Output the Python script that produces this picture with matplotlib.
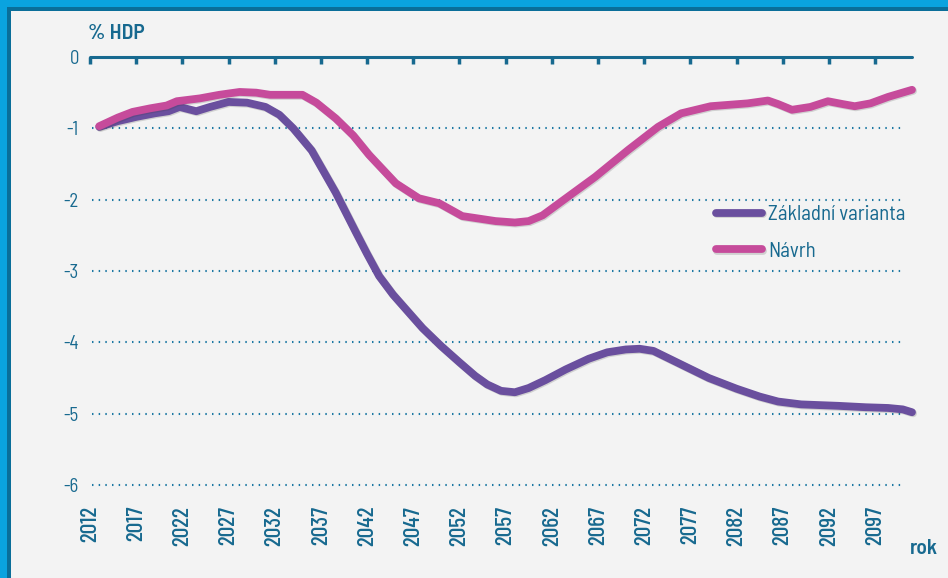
import matplotlib
matplotlib.use('Agg')
import matplotlib.pyplot as plt
import matplotlib.patheffects as pe
from matplotlib.patches import Rectangle

# data (% HDP)
base_years = [2013, 2015, 2017, 2019, 2020.5, 2021.7, 2023.5, 2025, 2027, 2029, 2031, 2032.5,
              2034, 2036, 2038.6, 2040.8, 2042, 2043.3, 2044.8, 2046.5, 2048, 2050, 2052,
              2053.7, 2055, 2056.5, 2058, 2059.5, 2061.3, 2063.5, 2066, 2068, 2070, 2071.5,
              2073, 2076, 2079, 2082, 2084.5, 2086.5, 2089, 2093, 2096, 2098.4, 2100, 2101]
base_values = [-0.98, -0.90, -0.84, -0.79, -0.76, -0.70, -0.76, -0.70, -0.63, -0.64, -0.70, -0.81,
               -1.00, -1.31, -1.90, -2.46, -2.76, -3.07, -3.33, -3.58, -3.80, -4.05, -4.28,
               -4.47, -4.59, -4.68, -4.70, -4.64, -4.53, -4.38, -4.23, -4.14, -4.10, -4.09,
               -4.12, -4.31, -4.50, -4.65, -4.76, -4.83, -4.87, -4.89, -4.91, -4.92, -4.94, -4.98]

proposal_years = [2013, 2015, 2016.6, 2018.5, 2020.3, 2021.4, 2023.9, 2026, 2028.2, 2030, 2031.5,
                  2035, 2036.5, 2038.6, 2040.5, 2042.2, 2045.1, 2047.6, 2049.8, 2052.3, 2055.9,
                  2058, 2059.5, 2061, 2063, 2066.7, 2070.3, 2073.5, 2076, 2079.2, 2083.2, 2085.4,
                  2086.5, 2088, 2090, 2091.9, 2093.5, 2094.8, 2096.5, 2098.4, 2101]
proposal_values = [-0.97, -0.85, -0.77, -0.72, -0.68, -0.62, -0.58, -0.53, -0.49, -0.50, -0.53,
                   -0.53, -0.64, -0.86, -1.10, -1.37, -1.77, -1.98, -2.05, -2.23, -2.30,
                   -2.32, -2.30, -2.22, -2.03, -1.68, -1.30, -0.98, -0.79, -0.69, -0.65, -0.61,
                   -0.66, -0.74, -0.70, -0.62, -0.66, -0.69, -0.65, -0.56, -0.46]

series_names = ['Základní varianta', 'Návrh']
x_ticks = list(range(2012, 2098, 5))
y_ticks = [0, -1, -2, -3, -4, -5, -6]

BG = '#f3f3f3'
TEXT = '#17698f'
PURPLE = '#6a4f9e'
PINK = '#c64b9b'

plt.rcParams['font.family'] = ['Barlow Semi Condensed', 'DejaVu Sans']
plt.rcParams['axes.unicode_minus'] = False

fig = plt.figure(figsize=(9.48, 5.78), dpi=100, facecolor=BG)
ax = fig.add_axes([90 / 948, 93 / 578, 822 / 948, 428 / 578], facecolor=BG)

shadow = [pe.SimpleLineShadow(offset=(0.8, -0.8), alpha=0.18, shadow_color='#333333'), pe.Normal()]

for v in y_ticks[1:]:
    ax.hlines(v, 2012.2, 2099.9, colors='#1c78a3', linewidth=1.5,
              linestyles=(0, (0.7, 2.5)), zorder=1, clip_on=False)

ax.plot(base_years, base_values, color=PURPLE, linewidth=5.6, solid_capstyle='round',
        solid_joinstyle='round', path_effects=shadow, label=series_names[0], zorder=3,
        clip_on=False)
ax.plot(proposal_years, proposal_values, color=PINK, linewidth=5.6, solid_capstyle='round',
        solid_joinstyle='round', path_effects=shadow, label=series_names[1], zorder=3,
        clip_on=False)

ax.set_xlim(2012, 2101)
ax.set_ylim(-6, 0)

for s in ['left', 'right', 'bottom']:
    ax.spines[s].set_visible(False)
ax.spines['top'].set_color(TEXT)
ax.spines['top'].set_linewidth(2.2)
ax.spines['top'].set_capstyle('round')

ax.set_xticks(x_ticks)
ax.set_xticklabels([str(x) for x in x_ticks], rotation=90, fontsize=17, color=TEXT,
                   fontweight='medium', family=['Barlow Condensed', 'DejaVu Sans'])
ax.tick_params(axis='x', top=True, bottom=False, labeltop=False, labelbottom=True,
               direction='in', length=5, width=2.5, color=TEXT, pad=15)
ax.set_yticks(y_ticks)
ax.set_yticklabels([str(y) for y in y_ticks], fontsize=13.5, color=TEXT)
ax.tick_params(axis='y', left=False, length=0, pad=8)

leg = ax.legend(loc='upper left', bbox_to_anchor=(716 / 948, 1 - 205 / 578),
                bbox_transform=fig.transFigure, frameon=False, fontsize=15,
                handlelength=2.2, handletextpad=0.3, labelspacing=0.85,
                borderpad=0, borderaxespad=0)
for t in leg.get_texts():
    t.set_color(TEXT)
for h in leg.get_lines():
    h.set_linewidth(5.6)
    h.set_solid_capstyle('round')

fig.text(88 / 948, 1 - 39 / 578, '% HDP', fontsize=15.5, fontweight='semibold', color=TEXT,
         ha='left', va='baseline')
fig.text(910 / 948, 1 - 554 / 578, 'rok', fontsize=15.5, fontweight='semibold', color=TEXT,
         ha='left', va='baseline')

# blue frame along the top and left edges
fig.patches.append(Rectangle((0, 1 - 7 / 578), 1, 7 / 578, transform=fig.transFigure,
                             facecolor='#0aa3df', edgecolor='none', zorder=0))
fig.patches.append(Rectangle((0, 1 - 11 / 578), 1, 4 / 578, transform=fig.transFigure,
                             facecolor='#0a6e99', edgecolor='none', zorder=0))
fig.patches.append(Rectangle((0, 0), 7 / 948, 1, transform=fig.transFigure,
                             facecolor='#0aa3df', edgecolor='none', zorder=0))
fig.patches.append(Rectangle((7 / 948, 0), 4 / 948, 1 - 7 / 578, transform=fig.transFigure,
                             facecolor='#0a6e99', edgecolor='none', zorder=0))

fig.savefig('out.png', dpi=100, facecolor=BG)
